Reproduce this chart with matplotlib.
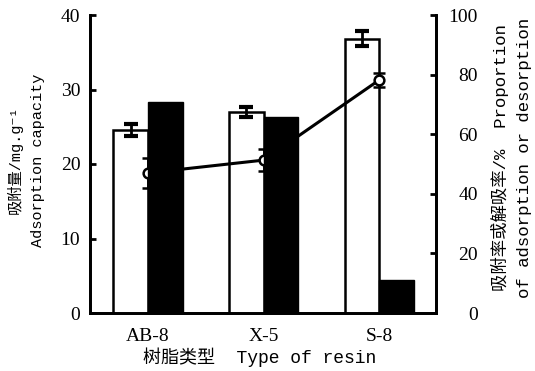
import numpy as np
import matplotlib
matplotlib.use('Agg')
import matplotlib.pyplot as plt

# data
resins = ['AB-8', 'X-5', 'S-8']
adsorption = [24.6, 27.0, 36.8]          # mg/g, white bars
adsorption_err = [0.8, 0.7, 1.0]
desorption = [28.3, 26.3, 4.4]           # mg/g, black bars
proportion = [47.0, 51.3, 78.2]          # %, line on right axis
proportion_err = [5.0, 3.7, 2.5]

mono_cjk = ['Liberation Mono', 'Noto Sans CJK SC', 'DejaVu Sans']
serif = 'Liberation Serif'

fig = plt.figure(figsize=(5.35, 3.71), dpi=100)
ax = fig.add_axes([90 / 535, 58 / 371, 346 / 535, 298 / 371])
ax2 = ax.twinx()

x = np.arange(len(resins))
w = 0.3

ax.bar(x - w / 2, adsorption, w, color='white', edgecolor='black', linewidth=1.8,
       yerr=adsorption_err, error_kw=dict(ecolor='black', elinewidth=2, capsize=5, capthick=3),
       zorder=1)
ax.bar(x + w / 2, desorption, w, color='black', edgecolor='black', linewidth=1.0, zorder=3)

# the proportion line sits over the white bars and under the black ones,
# so it is drawn on the left axes, rescaled from 0-100 % to 0-40
scale = 40 / 100
ax.errorbar(x, np.array(proportion) * scale, yerr=np.array(proportion_err) * scale,
            color='black', linewidth=2.2, marker='o', markersize=7,
            markerfacecolor='white', markeredgewidth=1.8,
            elinewidth=2, capsize=4, capthick=3, zorder=2)

ax.set_xlim(-0.5, 2.49)
ax.set_ylim(0, 40)
ax.set_yticks([0, 10, 20, 30, 40])
ax.set_xticks(x)
ax.set_xticklabels(resins, fontfamily=serif, fontsize=14)
ax.tick_params(axis='x', length=0, pad=11)
ax.tick_params(axis='y', direction='in', length=4, width=2, pad=7, labelsize=14)
for lab in ax.get_yticklabels():
    lab.set_fontfamily(serif)

ax2.set_ylim(0, 100)
ax2.set_yticks([0, 20, 40, 60, 80, 100])
ax2.tick_params(axis='y', direction='in', length=4, width=2, pad=30, labelsize=14)
for lab in ax2.get_yticklabels():
    lab.set_fontfamily(serif)
    lab.set_horizontalalignment('right')

ax.set_zorder(ax2.get_zorder() + 1)
ax.patch.set_visible(False)

for a in (ax, ax2):
    a.spines['top'].set_visible(False)
    for s in ('left', 'right', 'bottom'):
        a.spines[s].set_linewidth(2)

fig.text(15 / 535, 1 - 160 / 371, '吸附量/mg.g⁻¹', rotation=90, ha='center', va='center',
         fontfamily=mono_cjk, fontsize=11)
fig.text(38 / 535, 1 - 160 / 371, 'Adsorption capacity', rotation=90, ha='center', va='center',
         fontfamily=mono_cjk, fontsize=11)
fig.text(500 / 535, 1 - 158 / 371, '吸附率或解吸率/%  Proportion', rotation=90, ha='center', va='center',
         fontfamily=mono_cjk, fontsize=12.5)
fig.text(524 / 535, 1 - 158 / 371, 'of adsorption or desorption', rotation=90, ha='center', va='center',
         fontfamily=mono_cjk, fontsize=12.5)
fig.text(260 / 535, 1 - 357 / 371, '树脂类型  Type of resin', ha='center', va='center',
         fontfamily=mono_cjk, fontsize=13)

fig.savefig('out.png', dpi=100)
